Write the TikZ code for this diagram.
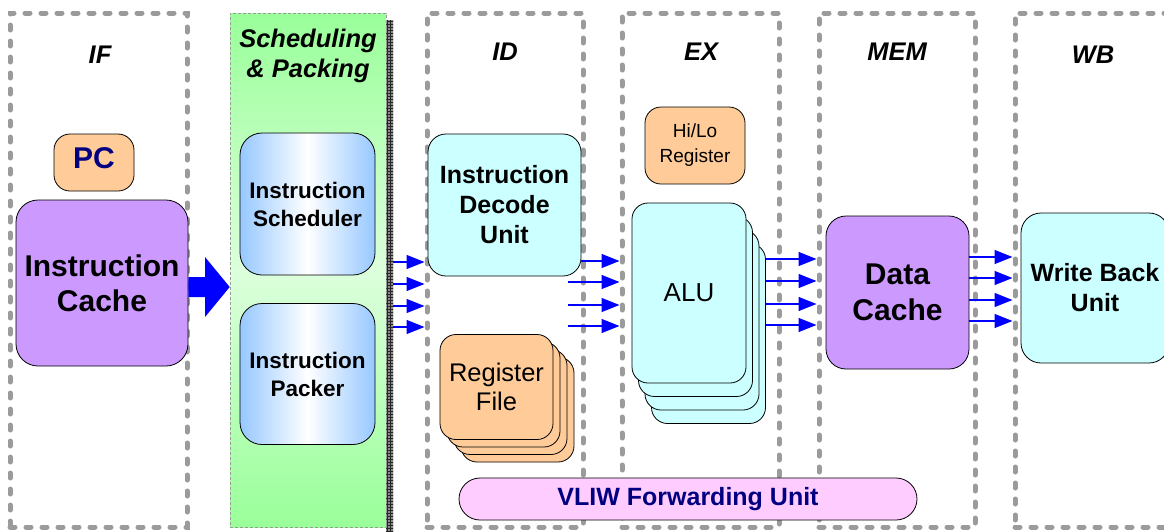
\documentclass[tikz,border=0pt]{standalone}
\usepackage{fontspec}
\setmainfont{Liberation Sans}
\usetikzlibrary{arrows.meta,patterns}

\definecolor{framegray}{RGB}{155,155,155}
\definecolor{peach}{RGB}{255,204,153}
\definecolor{lilac}{RGB}{204,153,255}
\definecolor{paleCyan}{RGB}{204,255,255}
\definecolor{palePink}{RGB}{255,204,255}
\definecolor{greenEdge}{RGB}{153,255,153}
\definecolor{greenMid}{RGB}{220,255,220}
\definecolor{skyBlue}{RGB}{150,200,255}
\definecolor{navyText}{RGB}{0,0,128}
\definecolor{pureBlue}{RGB}{0,0,255}

\newcommand{\setfs}[2]{\fontsize{#1}{#2}\selectfont}

\tikzset{
  stageframe/.style={draw=framegray, line width=5pt, dash pattern=on 5pt off 11pt,
    line cap=round, inner sep=0pt},
  stagelabel/.style={font=\bfseries\itshape\setfs{25.5}{30}, align=center, inner sep=0pt},
  unit/.style={draw=black, line width=0.8pt, inner sep=0pt, align=center},
  bus/.style={draw=pureBlue, line width=1.3pt, -{Triangle[length=18pt,width=14pt]}},
}

\begin{document}
\begin{tikzpicture}[x=1pt,y=-1pt]
\useasboundingbox (0,0) rectangle (1164,531);
\fill[white] (0,0) rectangle (1164,531);

% pipeline stage frames
\node[stageframe, minimum width=177, minimum height=514] (colIF)  at (98.5,270) {};
\node[stageframe, minimum width=156, minimum height=514] (colID)  at (505,270) {};
\node[stageframe, minimum width=157, minimum height=514] (colEX)  at (700.5,270) {};
\node[stageframe, minimum width=156, minimum height=514] (colMEM) at (897,270) {};
\node[stageframe, minimum width=196, minimum height=514] (colWB)  at (1113,270) {};

% scheduling & packing stage
\node[fill=black!45, minimum width=7, minimum height=511, inner sep=0pt,
      postaction={pattern=grid, pattern color=black!85}] (spshadow) at (389.5,275.5) {};
\node[draw=black!40, line width=0.6pt, dash pattern=on 3pt off 2pt, inner sep=0pt,
      top color=greenEdge, bottom color=greenEdge, middle color=greenMid,
      minimum width=156, minimum height=514] (sp) at (308,270) {};

% stage titles
\node[stagelabel] (lIF)  at (100,55) {IF};
\node[stagelabel, text depth=0pt] (lSP) at (308,53) {Scheduling\\\& Packing};
\node[stagelabel] (lID)  at (505,52) {ID};
\node[stagelabel] (lEX)  at (701,52) {EX};
\node[stagelabel] (lMEM) at (897,52) {MEM};
\node[stagelabel] (lWB)  at (1093,55) {WB};

% IF stage
\node[unit, fill=peach, minimum width=80, minimum height=57, rounded corners=16,
      text depth=8pt, font=\bfseries\setfs{30}{30}, text=navyText] (pc) at (94,162.5) {PC};
\node[unit, fill=lilac, minimum width=172, minimum height=166, rounded corners=22,
      font=\bfseries\setfs{30}{35}] (icache) at (102,283) {Instruction\\Cache};

% fetch to scheduling arrow
\fill[pureBlue] (icache.east |- 0,277) -- (205,277) -- (205,257) -- (sp.west |- 0,287)
  -- (205,317) -- (205,297) -- (icache.east |- 0,297) -- cycle;

% scheduler and packer
\node[unit, left color=skyBlue, right color=skyBlue, middle color=white,
      minimum width=135, minimum height=142, rounded corners=22,
      font=\bfseries\setfs{22.5}{28}] (sched) at (307.5,204) {Instruction\\Scheduler};
\node[unit, left color=skyBlue, right color=skyBlue, middle color=white,
      minimum width=135, minimum height=141, rounded corners=22,
      font=\bfseries\setfs{22.5}{28}] (packer) at (307.5,374) {Instruction\\Packer};

% ID stage
\node[unit, fill=paleCyan, minimum width=153, minimum height=142, rounded corners=18,
      font=\bfseries\setfs{25}{30}] (decode) at (504.5,205) {Instruction\\Decode\\Unit};
\foreach \k in {3,2,1}{
  \node[unit, fill=peach, minimum width=113, minimum height=105, rounded corners=16]
    (regfile\k) at (496.5+7*\k,387+7.5*\k) {};
}
\node[unit, fill=peach, minimum width=113, minimum height=105, rounded corners=16,
      font=\setfs{25.5}{29}] (regfile) at (496.5,387) {Register\\File};

% EX stage
\node[unit, fill=peach, minimum width=100, minimum height=77, rounded corners=16,
      font=\setfs{19}{25}] (hilo) at (695,145.5) {Hi/Lo\\Register};
\foreach \k in {3,2,1}{
  \node[unit, fill=paleCyan, minimum width=114, minimum height=180, rounded corners=16]
    (alu\k) at (689+6.5*\k,293+13.5*\k) {};
}
\node[unit, fill=paleCyan, minimum width=114, minimum height=180, rounded corners=16,
      font=\setfs{26}{30}] (alu) at (689,293) {ALU};

% MEM stage
\node[unit, fill=lilac, minimum width=143, minimum height=153, rounded corners=20,
      font=\bfseries\setfs{30}{36}] (dcache) at (897.5,292.5) {Data\\Cache};

% WB stage
\node[unit, fill=paleCyan, minimum width=148, minimum height=150, rounded corners=20,
      font=\bfseries\setfs{25}{30}] (wbu) at (1095,288) {Write Back\\Unit};

% forwarding unit
\node[unit, fill=palePink, minimum width=458, minimum height=42, rounded corners=21,
      font=\bfseries\setfs{25}{28}, text=navyText] (fwd) at (688,499) {VLIW Forwarding Unit};

% inter-stage buses
\coordinate (idout) at (568,0);
\foreach \y in {262,284,306,327}{
  \draw[bus] (spshadow.east |- 0,\y) -- (colID.west |- 0,\y);
}
\draw[bus] (decode.east |- 0,261) -- (colEX.west |- 0,261);
\foreach \y in {282,305,326}{
  \draw[bus] (idout |- 0,\y) -- (colEX.west |- 0,\y);
}
\foreach \y in {259,281,304,325}{
  \draw[bus] (alu3.east |- 0,\y) -- (colMEM.west |- 0,\y);
}
\foreach \y in {257,278,300,321}{
  \draw[bus] (dcache.east |- 0,\y) -- (colWB.west |- 0,\y);
}
\end{tikzpicture}
\end{document}
